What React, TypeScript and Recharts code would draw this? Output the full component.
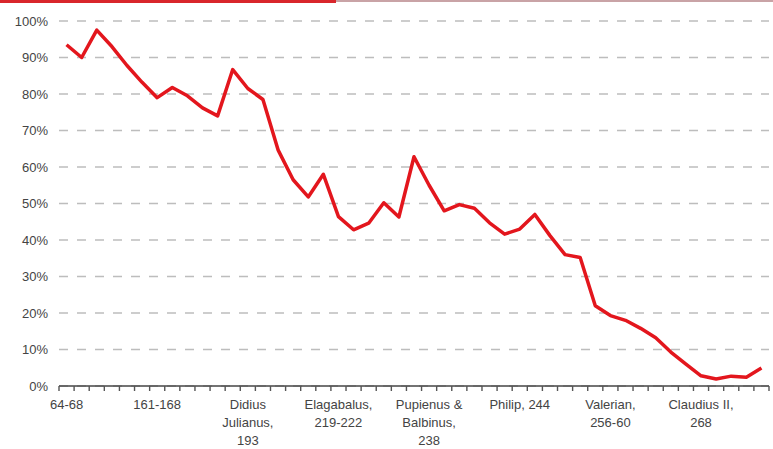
import React from 'react';
import { LineChart, Line, XAxis, YAxis, CartesianGrid } from 'recharts';

// 47 categories (reigns); only every sixth one carries a label
const categoryLabels: string[] = [
  '64-68', '', '', '', '', '',
  '161-168', '', '', '', '', '',
  'Didius\nJulianus,\n193', '', '', '', '', '',
  'Elagabalus,\n219-222', '', '', '', '', '',
  'Pupienus &\nBalbinus,\n238', '', '', '', '', '',
  'Philip, 244', '', '', '', '', '',
  'Valerian,\n256-60', '', '', '', '', '',
  'Claudius II,\n268', '', '', '', '',
];

// silver content, percent
const silverShare: number[] = [
  93.5, 90, 97.5, 93, 87.8, 83.2, 79, 81.8, 79.5, 76.2,
  74, 86.7, 81.5, 78.5, 64.7, 56.5, 51.8, 58, 46.4, 42.8,
  44.6, 50.2, 46.3, 62.8, 55, 48, 49.7, 48.7, 44.7, 41.6,
  43, 47, 41.2, 36, 35.2, 22, 19.3, 18, 15.8, 13.2,
  9.3, 6, 2.8, 1.9, 2.7, 2.4, 4.9,
];

const yTicks: number[] = [0, 10, 20, 30, 40, 50, 60, 70, 80, 90, 100];
const labelPositions: number[] = [0, 6, 12, 18, 24, 30, 36, 42];

const data = silverShare.map((v, i) => ({ i, label: categoryLabels[i], value: v }));
const boundaryTicks = categoryLabels.map((_, k) => k - 0.5).concat([categoryLabels.length - 0.5]);
const xTicks = [...boundaryTicks, ...labelPositions].sort((a, b) => a - b);

const FONT = 'Arial, "Liberation Sans", sans-serif';

const XTick = (props: any) => {
  const { x, y, payload } = props;
  const v = payload.value;
  if (!Number.isInteger(v)) {
    return <line x1={x} x2={x} y1={y} y2={y + 5} stroke="#555" strokeWidth={1.4} />;
  }
  const lines = (categoryLabels[v] || '').split('\n');
  return (
    <text x={x} y={y} textAnchor="middle" fontSize={13} fill="#444" fontFamily={FONT}>
      {lines.map((l, k) => (
        <tspan key={k} x={x} y={y + 23 + k * 18}>{l}</tspan>
      ))}
    </text>
  );
};

export default function App() {
  return (
    <div style={{ position: 'absolute', left: 0, top: 0, width: 773, height: 449, background: '#fff', overflow: 'hidden' }}>
      <div style={{ position: 'absolute', left: 0, top: 0, width: 336, height: 3, background: '#d9262b' }} />
      <div style={{ position: 'absolute', left: 336, top: 0, width: 437, height: 2, background: '#c9a3a6' }} />
      <LineChart width={773} height={449} data={data} margin={{ top: 21, right: 4, bottom: 0, left: 0 }}>
        <CartesianGrid horizontal vertical={false} stroke="#bdbdbd" strokeWidth={1.3} strokeDasharray="9 9" />
        <XAxis
          dataKey="i"
          type="number"
          domain={[-0.5, categoryLabels.length - 0.5]}
          ticks={xTicks}
          interval={0}
          tick={<XTick />}
          tickLine={false}
          tickSize={0}
          tickMargin={0}
          height={63}
          axisLine={{ stroke: '#444', strokeWidth: 1.5 }}
        />
        <YAxis
          type="number"
          domain={[0, 100]}
          ticks={yTicks}
          tickFormatter={(v: number) => `${v}%`}
          axisLine={false}
          tickLine={false}
          tickSize={0}
          tickMargin={11}
          width={59}
          tick={{ fontSize: 13, fill: '#444', fontFamily: FONT }}
        />
        <Line
          type="linear"
          dataKey="value"
          stroke="#e3161d"
          strokeWidth={3.5}
          strokeLinejoin="round"
          dot={false}
          isAnimationActive={false}
        />
      </LineChart>
    </div>
  );
}
